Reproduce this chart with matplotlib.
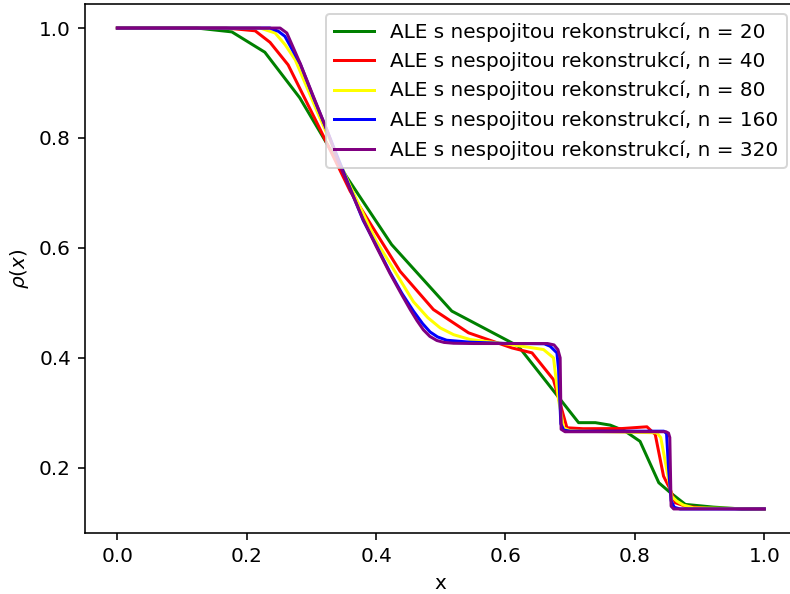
import matplotlib
matplotlib.use("Agg")
import matplotlib.pyplot as plt

# density profiles rho(x) for increasing mesh resolution
x20 = [0.0, 0.123, 0.177, 0.228, 0.282, 0.354, 0.424, 0.517, 0.620, 0.713,
       0.739, 0.762, 0.785, 0.808, 0.837, 0.855, 0.878, 0.921, 0.965, 1.0]
rho20 = [1.0, 1.0, 0.993, 0.956, 0.873, 0.730, 0.606, 0.485, 0.421, 0.282,
         0.282, 0.2775, 0.2665, 0.248, 0.1727, 0.1545, 0.1333, 0.1284, 0.125, 0.125]

x40 = [0.0, 0.168, 0.213, 0.236, 0.264, 0.310, 0.360, 0.437, 0.4886, 0.5428,
       0.610, 0.641, 0.674, 0.695, 0.720, 0.780, 0.8186, 0.8315, 0.8443,
       0.8546, 0.8624, 0.878, 0.910, 1.0]
rho40 = [1.0, 1.0, 0.995, 0.974, 0.933, 0.824, 0.703, 0.5575, 0.4878, 0.4455,
         0.418, 0.409, 0.3606, 0.2727, 0.271, 0.2713, 0.2745, 0.2605, 0.1847,
         0.1604, 0.1364, 0.130, 0.126, 0.125]

x80 = [0.0, 0.2205, 0.2439, 0.2594, 0.2749, 0.310, 0.360, 0.400, 0.4577, 0.480,
       0.499, 0.520, 0.5454, 0.600, 0.6587, 0.6742, 0.682, 0.6897, 0.700, 0.834,
       0.840, 0.857, 0.865, 0.875, 0.8907, 1.0]
rho80 = [1.0, 1.0, 0.991, 0.9696, 0.9424, 0.845, 0.712, 0.613, 0.502, 0.473,
         0.4545, 0.442, 0.4333, 0.4255, 0.4151, 0.400, 0.324, 0.2727, 0.267,
         0.2636, 0.255, 0.148, 0.139, 0.132, 0.127, 0.125]

x160 = [0.0, 0.236, 0.249, 0.259, 0.283, 0.303, 0.324, 0.352, 0.380, 0.400,
        0.4217, 0.440, 0.4577, 0.4720, 0.4835, 0.495, 0.509, 0.5454, 0.600,
        0.660, 0.6691, 0.6795, 0.682, 0.6855, 0.690, 0.700, 0.845, 0.849,
        0.852, 0.856, 0.861, 0.870, 1.0]
rho160 = [1.0, 1.0, 0.994, 0.985, 0.934, 0.874, 0.814, 0.731, 0.650, 0.605,
          0.555, 0.517, 0.485, 0.462, 0.447, 0.438, 0.432, 0.4284, 0.4262,
          0.4255, 0.421, 0.409, 0.380, 0.280, 0.2685, 0.2665, 0.2665, 0.262,
          0.200, 0.140, 0.128, 0.125, 0.125]

x320 = [0.0, 0.2516, 0.262, 0.2825, 0.303, 0.3238, 0.340, 0.352, 0.366, 0.380,
        0.400, 0.4217, 0.440, 0.4526, 0.463, 0.473, 0.483, 0.4939, 0.5050,
        0.5196, 0.550, 0.665, 0.675, 0.681, 0.6845, 0.686, 0.692, 0.700,
        0.848, 0.852, 0.854, 0.856, 0.860, 1.0]
rho320 = [1.0, 1.0, 0.991, 0.936, 0.8756, 0.815, 0.762, 0.728, 0.690, 0.652,
          0.603, 0.553, 0.514, 0.488, 0.468, 0.451, 0.439, 0.4315, 0.428,
          0.4265, 0.426, 0.426, 0.4235, 0.415, 0.400, 0.270, 0.2655, 0.2655,
          0.2655, 0.263, 0.255, 0.130, 0.125, 0.125]

ns = [20, 40, 80, 160, 320]
xs = [x20, x40, x80, x160, x320]
rhos = [rho20, rho40, rho80, rho160, rho320]
colors = ['green', 'red', 'yellow', 'blue', 'purple']

dpi = 144
fig = plt.figure(figsize=(790 / dpi, 594 / dpi), dpi=dpi)
ax = fig.add_axes([85 / 790, 61 / 594, 711.6 / 790, 529 / 594])

for n, x, rho, c in zip(ns, xs, rhos, colors):
    ax.plot(x, rho, color=c, label=f'ALE s nespojitou rekonstrukcí, n = {n}')

ax.set_xlabel('x')
ax.set_ylabel(r'$\rho(x)$')
ax.legend(loc='upper right')

fig.savefig('out.png', dpi=dpi)
